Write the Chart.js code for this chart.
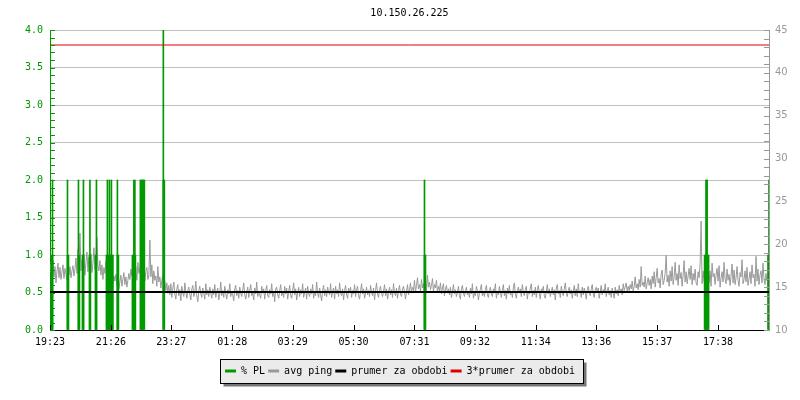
<!DOCTYPE html>
<html>
<head>
<meta charset="utf-8">
<title>10.150.26.225</title>
<script src="https://cdn.jsdelivr.net/npm/chart.js@4/dist/chart.umd.min.js"></script>
<style>
    html, body { margin: 0; padding: 0; background: #fff; }
    #wrap { width: 800px; height: 400px; }
</style>
</head>
<body>
<div id="wrap"><canvas id="pingChart" width="800" height="400"></canvas></div>
<script>
// Chart data (x values are minutes since 19:23)
const chartTitle = "10.150.26.225";
const windowEnd = 1440;
const tickMinutes = [0, 122, 243, 365, 486, 608, 730, 851, 973, 1094, 1216, 1338];
const tickLabels = ["19:23", "21:26", "23:27", "01:28", "03:29", "05:30", "07:31", "09:32", "11:34", "13:36", "15:37", "17:38"];

// avg ping in ms, one sample every 2 minutes
const pingStep = 2;
const avgPing = [
    16.8, 17.9, 15.6, 18.1, 16.2, 17.4, 15.5, 16.9, 17.8, 16.1, 17.3, 15.9, 16.7, 17.6, 16.0, 17.2, 16.5, 15.8, 17.0, 16.4,
    17.4, 16.1, 16.9, 17.5, 16.3, 17.1, 18.4, 16.6, 19.4, 17.3, 21.3, 16.9, 18.2, 17.0, 18.8, 16.4, 17.9, 19.1, 16.8, 18.5,
    17.2, 18.9, 16.7, 17.8, 19.6, 17.1, 18.3, 20.8, 17.5, 16.9, 18.1, 16.4, 17.6, 15.9, 17.3, 16.6, 18.0, 16.2, 17.4, 15.8,
    16.9, 16.1, 17.2, 15.4, 16.3, 15.7, 16.5, 15.2, 16.0, 14.8, 15.6, 16.4, 15.1, 15.9, 16.7, 15.3, 16.2, 15.0, 15.8, 16.6,
    15.9, 17.1, 16.3, 17.8, 18.2, 16.5, 17.4, 15.8, 17.9, 16.6, 17.2, 18.4, 19.6, 16.9, 17.5, 15.7, 16.8, 17.3, 15.9, 16.4,
    20.5, 16.2, 17.6, 15.4, 16.9, 15.8, 16.3, 15.1, 17.4, 15.6, 16.2, 14.9, 15.8, 16.4, 15.0, 15.7, 14.6, 15.5, 14.3, 15.2,
    14.1, 15.4, 13.8, 14.9, 15.6, 14.2, 13.6, 14.8, 15.3, 14.0, 14.7, 13.4, 15.1, 14.3, 13.9, 15.5, 14.5, 13.7, 14.6, 15.0,
    14.2, 13.5, 14.8, 15.2, 13.9, 14.4, 15.7, 14.0, 13.3, 14.6, 15.1, 14.2, 13.8, 14.9, 14.3, 13.6, 15.4, 14.1, 14.7, 13.9,
    15.0, 14.4, 13.7, 14.8, 14.1, 15.3, 13.8, 14.5, 14.9, 13.5, 14.2, 15.6, 14.0, 14.6, 13.8, 15.1, 14.3, 13.6, 14.7, 14.2,
    15.4, 13.9, 14.5, 14.1, 13.4, 14.8, 15.2, 14.0, 14.6, 13.7, 15.0, 14.3, 13.9, 14.7, 15.5, 14.1, 13.6, 14.4, 15.0, 13.8,
    14.6, 15.3, 14.0, 14.4, 13.5, 14.9, 14.2, 15.6, 13.9, 14.5, 14.1, 13.7, 15.1, 14.3, 14.8, 13.6, 14.6, 15.2, 14.0, 13.8,
    14.7, 14.2, 15.4, 13.9, 14.5, 13.3, 14.8, 15.0, 14.1, 13.7, 14.6, 15.3, 14.0, 14.4, 13.8, 15.1, 14.2, 14.9, 13.6, 14.5,
    15.2, 14.0, 13.7, 14.6, 15.5, 14.1, 14.8, 13.5, 14.3, 15.0, 13.9, 14.7, 14.2, 15.4, 13.8, 14.4, 14.9, 13.6, 15.1, 14.3,
    13.9, 14.8, 14.2, 15.3, 13.7, 14.5, 14.0, 15.6, 14.3, 13.8, 14.9, 14.1, 13.4, 14.6, 15.2, 14.0, 14.7, 13.9, 15.0, 14.4,
    14.1, 15.4, 13.8, 14.5, 14.9, 13.6, 15.1, 14.2, 14.7, 13.9, 15.5, 14.3, 14.0, 14.8, 13.5, 14.6, 15.2, 14.1, 13.7, 14.9,
    14.4, 15.0, 13.8, 14.6, 14.2, 15.3, 13.9, 14.7, 15.1, 14.0, 13.6, 14.5, 15.4, 14.2, 14.8, 13.7, 14.3, 15.0, 14.1, 14.6,
    13.9, 15.2, 14.4, 14.0, 14.9, 13.5, 14.6, 15.5, 14.2, 13.8, 14.7, 15.1, 14.3, 13.9, 14.5, 15.3, 14.0, 14.8, 13.6, 14.4,
    15.0, 14.1, 14.7, 13.8, 15.4, 14.3, 14.0, 14.9, 13.7, 14.6, 15.2, 14.2, 13.9, 14.8, 15.1, 14.4, 13.6, 14.5, 15.3, 14.1,
    14.7, 15.5, 14.3, 15.0, 14.6, 15.8, 14.4, 15.2, 16.1, 14.8, 15.3, 14.5, 15.9, 14.9, 15.4, 14.2, 15.7, 14.6, 16.4, 15.0,
    15.6, 14.7, 15.2, 16.0, 14.5, 15.3, 14.9, 15.8, 14.4, 15.1, 14.6, 15.5, 14.2, 14.9, 15.4, 14.0, 14.7, 15.2, 14.3, 14.8,
    14.1, 15.0, 13.8, 14.5, 15.3, 14.2, 14.7, 13.9, 14.4, 15.1, 14.0, 13.6, 14.8, 15.2, 14.3, 13.9, 14.6, 15.0, 14.1, 14.5,
    13.8, 14.9, 14.2, 15.4, 13.7, 14.4, 14.0, 15.1, 14.6, 13.5, 14.3, 14.8, 15.3, 14.0, 14.5, 13.9, 14.7, 15.2, 14.1, 13.8,
    14.6, 15.0, 14.2, 13.9, 14.8, 14.3, 15.4, 13.7, 14.5, 14.1, 15.1, 14.4, 13.8, 14.7, 15.3, 14.0, 14.6, 13.6, 14.9, 14.2,
    15.2, 14.1, 14.5, 13.8, 14.9, 15.5, 14.2, 13.7, 14.6, 15.0, 14.3, 14.8, 13.9, 15.3, 14.4, 14.0, 14.7, 15.1, 13.6, 14.5,
    14.2, 14.9, 15.4, 13.9, 14.6, 14.1, 15.0, 13.8, 14.7, 15.2, 14.3, 13.6, 14.8, 14.4, 15.1, 14.0, 13.7, 14.5, 15.3, 14.2,
    14.8, 13.9, 14.4, 15.0, 14.1, 14.7, 13.5, 14.9, 15.3, 14.2, 14.6, 13.8, 15.1, 14.4, 14.0, 14.8, 15.5, 14.3, 13.9, 14.6,
    15.0, 14.2, 14.7, 13.7, 14.5, 15.2, 14.0, 14.8, 13.9, 15.4, 14.3, 14.6, 13.8, 15.0, 14.1, 14.9, 14.4, 13.6, 14.7, 15.1,
    14.3, 14.0, 14.8, 15.3, 14.2, 13.8, 14.6, 15.0, 14.4, 14.9, 13.7, 14.5, 15.2, 14.1, 14.7, 14.3, 15.4, 13.9, 14.6, 15.0,
    14.1, 14.6, 13.8, 14.9, 14.3, 13.7, 15.0, 14.2, 14.7, 14.0, 15.2, 14.4, 14.8, 14.1, 15.4, 14.6, 15.0, 15.5, 14.5, 15.1,
    14.6, 15.3, 14.8, 15.7, 14.5, 15.1, 16.2, 14.9, 15.4, 14.7, 15.9, 15.0, 17.4, 15.2, 15.6, 15.0, 16.3, 14.8, 15.5, 16.1,
    15.2, 15.9, 14.8, 16.3, 15.4, 16.8, 15.0, 16.1, 17.2, 15.5, 16.0, 14.9, 16.5, 17.0, 15.3, 15.8, 16.6, 18.7, 15.6, 16.4,
    15.1, 16.9, 15.7, 17.4, 15.3, 16.2, 17.9, 15.8, 16.6, 15.2, 17.6, 16.0, 16.7, 15.1, 16.4, 18.1, 15.6, 16.8, 15.4, 16.3,
    17.2, 15.9, 17.5, 15.3, 16.6, 15.8, 17.1, 15.5, 15.2, 16.8, 16.1, 17.7, 22.7, 15.4, 16.9, 15.7, 15.2, 17.3, 15.9, 17.6,
    15.5, 16.9, 15.1, 17.8, 16.2, 16.6, 15.3, 16.4, 17.2, 15.7, 17.5, 15.0, 16.1, 16.8, 15.6, 17.9, 16.0, 15.4, 17.1, 15.8,
    16.5, 15.2, 16.3, 17.7, 15.5, 17.0, 15.3, 16.1, 17.4, 15.8, 15.1, 16.7, 16.2, 18.2, 15.4, 15.9, 16.9, 15.6, 17.3, 15.2,
    16.0, 16.8, 15.4, 17.6, 16.1, 16.5, 15.1, 18.6, 15.7, 17.1, 15.3, 16.4, 16.9, 15.5, 17.8, 15.9, 15.3, 16.6, 15.7
];

// % packet loss - short peaks (thin) and wider blocks
const plPeakTimes = [5, 35, 57, 67, 80, 93, 115, 119, 123, 135, 168, 170, 227, 750, 1315, 1440];
const plPeakValues = [2, 2, 2, 2, 2, 2, 2, 2, 2, 2, 2, 2, 4, 2, 2, 2];
const plBlockTimes = [4, 36, 58, 66, 80, 92, 114, 117, 121, 125, 136, 166, 170, 182, 185, 188, 228, 751, 1312, 1315, 1318, 1439];
const plBlockValues = [1, 1, 1, 1, 1, 1, 1, 1, 1, 1, 1, 1, 1, 2, 2, 2, 2, 1, 1, 2, 1, 1];

// period average and 3x average (ms)
const periodMean = 14.42;
const periodMean3 = 43.25;

const GREEN = "#009900";
const GREY = "#999999";
const RED = "#dd0000";
const MONO = "'DejaVu Sans Mono', monospace";

function toPoints(xs, ys) {
    return xs.map((x, i) => ({ x: x, y: ys[i] }));
}

// title centred over the plot area
const titlePlugin = {
    id: "plotTitle",
    afterDraw(chart) {
        const ctx = chart.ctx;
        const area = chart.chartArea;
        ctx.save();
        ctx.font = "10px " + MONO;
        ctx.fillStyle = "#000";
        ctx.textAlign = "center";
        ctx.textBaseline = "middle";
        ctx.fillText(chartTitle, (area.left + area.right) / 2, 13);
        ctx.restore();
    }
};

// grey legend panel with a drop shadow
const legendBoxPlugin = {
    id: "legendBox",
    beforeDraw(chart) {
        const boxes = chart.legend && chart.legend.legendHitBoxes;
        if (!boxes || !boxes.length) return;
        const first = boxes[0];
        const last = boxes[boxes.length - 1];
        const cy = Math.round(first.top + first.height / 2);
        const left = Math.round(first.left - 5) + 0.5;
        const right = Math.round(last.left + last.width + 8) + 0.5;
        const top = cy - 12 + 0.5;
        const bottom = cy + 12 + 0.5;
        const ctx = chart.ctx;
        ctx.save();
        ctx.fillStyle = "#777";
        ctx.fillRect(left + 3, top + 3, right - left, bottom - top);
        ctx.fillStyle = "#ebebeb";
        ctx.fillRect(left, top, right - left, bottom - top);
        ctx.strokeStyle = "#000";
        ctx.lineWidth = 1;
        ctx.strokeRect(left, top, right - left, bottom - top);
        ctx.restore();
    }
};

// small inner tick marks on the three axes
const axisTicksPlugin = {
    id: "axisTicks",
    afterDraw(chart) {
        const ctx = chart.ctx;
        const area = chart.chartArea;
        const yL = chart.scales.y;
        const yR = chart.scales.y2;
        const x = chart.scales.x;
        ctx.save();
        ctx.lineWidth = 1;

        ctx.strokeStyle = GREEN;
        ctx.beginPath();
        for (let i = 0; i <= 40; i++) {
            const py = Math.round(yL.getPixelForValue(i / 10)) + 0.5;
            ctx.moveTo(area.left, py);
            ctx.lineTo(area.left + 5, py);
        }
        ctx.stroke();

        ctx.strokeStyle = GREY;
        ctx.beginPath();
        for (let v = 10; v <= 45; v++) {
            const py = Math.round(yR.getPixelForValue(v)) + 0.5;
            ctx.moveTo(area.right - 5, py);
            ctx.lineTo(area.right, py);
        }
        ctx.stroke();

        ctx.strokeStyle = "#000";
        ctx.beginPath();
        tickMinutes.forEach(m => {
            const px = Math.round(x.getPixelForValue(m)) + 0.5;
            ctx.moveTo(px, area.bottom);
            ctx.lineTo(px, area.bottom - 5);
        });
        ctx.stroke();
        ctx.restore();
    }
};

const legendOrder = [
    { index: 0, text: "% PL", color: GREEN },
    { index: 2, text: "avg ping", color: GREY },
    { index: 3, text: "prumer za obdobi", color: "#000" },
    { index: 4, text: "3*prumer za obdobi", color: RED }
];

new Chart(document.getElementById("pingChart"), {
    type: "bar",
    data: {
        datasets: [
            {
                type: "bar",
                label: "% PL",
                data: toPoints(plBlockTimes, plBlockValues),
                backgroundColor: GREEN,
                borderWidth: 0,
                barThickness: 2,
                grouped: false,
                yAxisID: "y",
                order: 3
            },
            {
                type: "bar",
                label: "% PL peak",
                data: toPoints(plPeakTimes, plPeakValues),
                backgroundColor: GREEN,
                borderWidth: 0,
                barThickness: 1,
                grouped: false,
                yAxisID: "y",
                order: 3
            },
            {
                type: "line",
                label: "avg ping",
                data: avgPing.map((v, i) => ({ x: i * pingStep, y: v })),
                borderColor: GREY,
                backgroundColor: GREY,
                borderWidth: 1,
                pointRadius: 0,
                tension: 0,
                yAxisID: "y2",
                order: 4
            },
            {
                type: "line",
                label: "prumer za obdobi",
                data: [{ x: 0, y: periodMean }, { x: windowEnd, y: periodMean }],
                borderColor: "#000",
                backgroundColor: "#000",
                borderWidth: 2,
                pointRadius: 0,
                yAxisID: "y2",
                order: 2
            },
            {
                type: "line",
                label: "3*prumer za obdobi",
                data: [{ x: 0, y: periodMean3 }, { x: windowEnd, y: periodMean3 }],
                borderColor: RED,
                backgroundColor: RED,
                borderWidth: 1,
                pointRadius: 0,
                yAxisID: "y2",
                order: 1
            }
        ]
    },
    options: {
        responsive: false,
        animation: false,
        devicePixelRatio: 1,
        layout: { padding: { top: 30, left: 0, right: 0, bottom: 14 } },
        plugins: {
            title: { display: false },
            tooltip: { enabled: false },
            legend: {
                display: true,
                position: "bottom",
                onClick: null,
                labels: {
                    font: { family: MONO, size: 10 },
                    color: "#000",
                    boxWidth: 11,
                    boxHeight: 3,
                    padding: 3,
                    generateLabels: () => legendOrder.map(item => ({
                        text: item.text,
                        fillStyle: item.color,
                        strokeStyle: item.color,
                        lineWidth: 0,
                        fontColor: "#000",
                        datasetIndex: item.index,
                        hidden: false
                    }))
                }
            }
        },
        scales: {
            x: {
                type: "linear",
                min: 0,
                max: windowEnd,
                offset: false,
                afterBuildTicks: scale => {
                    scale.ticks = tickMinutes.map(v => ({ value: v }));
                },
                afterFit: scale => { scale.height = 33; },
                ticks: {
                    autoSkip: false,
                    maxRotation: 0,
                    padding: 6,
                    color: "#000",
                    font: { family: MONO, size: 10 },
                    callback: (value, index) => tickLabels[index]
                },
                grid: { display: true, drawOnChartArea: false, drawTicks: false, offset: false },
                border: { display: true, color: "#000", width: 1 }
            },
            y: {
                position: "left",
                min: 0,
                max: 4,
                afterFit: scale => { scale.width = 50; },
                ticks: {
                    stepSize: 0.5,
                    padding: 7,
                    color: GREEN,
                    font: { family: MONO, size: 10 },
                    callback: v => v.toFixed(1)
                },
                grid: {
                    drawTicks: false,
                    color: ctx => ctx.tick && ctx.tick.value === 0 ? "rgba(0,0,0,0)" : "#c0c0c0"
                },
                border: { display: true, color: GREEN, width: 1 }
            },
            y2: {
                position: "right",
                min: 10,
                max: 45,
                afterFit: scale => { scale.width = 31; },
                ticks: {
                    stepSize: 5,
                    padding: 6,
                    color: GREY,
                    font: { family: "'DejaVu Sans', sans-serif", size: 10 }
                },
                grid: { drawOnChartArea: false, drawTicks: false },
                border: { display: true, color: GREY, width: 1 }
            }
        }
    },
    plugins: [legendBoxPlugin, titlePlugin, axisTicksPlugin]
});
</script>
</body>
</html>
